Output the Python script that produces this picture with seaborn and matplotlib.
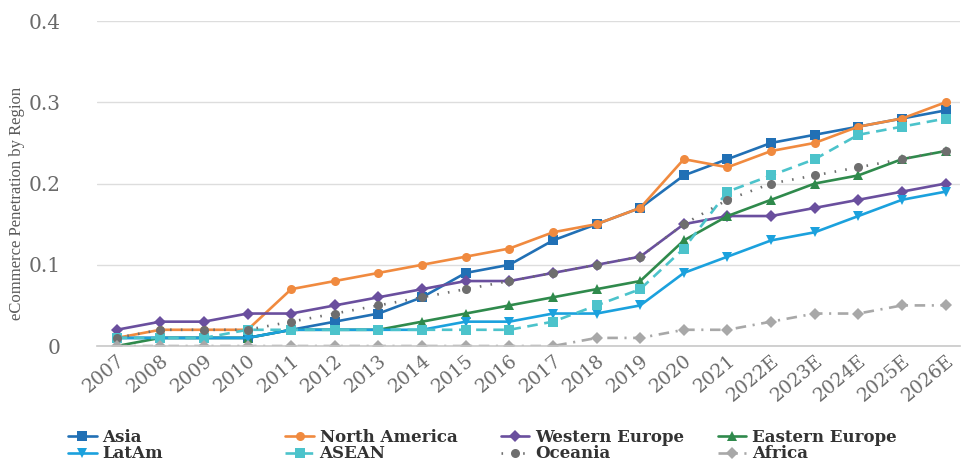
import pandas as pd
import numpy as np
import matplotlib
matplotlib.use('Agg')
import matplotlib.pyplot as plt
import seaborn as sns

# Datos
years = ['2007', '2008', '2009', '2010', '2011', '2012', '2013', '2014', '2015', '2016',
         '2017', '2018', '2019', '2020', '2021', '2022E', '2023E', '2024E', '2025E', '2026E']

asia = [0.01, 0.01, 0.01, 0.01, 0.02, 0.03, 0.04, 0.06, 0.09, 0.10,
        0.13, 0.15, 0.17, 0.21, 0.23, 0.25, 0.26, 0.27, 0.28, 0.29]
north_america = [0.01, 0.02, 0.02, 0.02, 0.07, 0.08, 0.09, 0.10, 0.11, 0.12,
                 0.14, 0.15, 0.17, 0.23, 0.22, 0.24, 0.25, 0.27, 0.28, 0.30]
western_europe = [0.02, 0.03, 0.03, 0.04, 0.04, 0.05, 0.06, 0.07, 0.08, 0.08,
                  0.09, 0.10, 0.11, 0.15, 0.16, 0.16, 0.17, 0.18, 0.19, 0.20]
eastern_europe = [0.00, 0.01, 0.01, 0.01, 0.02, 0.02, 0.02, 0.03, 0.04, 0.05,
                  0.06, 0.07, 0.08, 0.13, 0.16, 0.18, 0.20, 0.21, 0.23, 0.24]
latam = [0.01, 0.01, 0.01, 0.01, 0.02, 0.02, 0.02, 0.02, 0.03, 0.03,
         0.04, 0.04, 0.05, 0.09, 0.11, 0.13, 0.14, 0.16, 0.18, 0.19]
asean = [0.01, 0.01, 0.01, 0.02, 0.02, 0.02, 0.02, 0.02, 0.02, 0.02,
         0.03, 0.05, 0.07, 0.12, 0.19, 0.21, 0.23, 0.26, 0.27, 0.28]
oceania = [0.01, 0.02, 0.02, 0.02, 0.03, 0.04, 0.05, 0.06, 0.07, 0.08,
           0.09, 0.10, 0.11, 0.15, 0.18, 0.20, 0.21, 0.22, 0.23, 0.24]
africa = [0.00, 0.00, 0.00, 0.00, 0.00, 0.00, 0.00, 0.00, 0.00, 0.00,
          0.00, 0.01, 0.01, 0.02, 0.02, 0.03, 0.04, 0.04, 0.05, 0.05]

series = {
    'Asia': asia,
    'North America': north_america,
    'Western Europe': western_europe,
    'Eastern Europe': eastern_europe,
    'LatAm': latam,
    'ASEAN': asean,
    'Oceania': oceania,
    'Africa': africa,
}

colors = {
    'Asia': '#2170b5',
    'North America': '#f08a3f',
    'Western Europe': '#6a4f9e',
    'Eastern Europe': '#2f8a4c',
    'LatAm': '#1ba1dd',
    'ASEAN': '#4cc3cb',
    'Oceania': '#6e6e6e',
    'Africa': '#a8a8a8',
}
markers = {
    'Asia': 's', 'North America': 'o', 'Western Europe': 'D', 'Eastern Europe': '^',
    'LatAm': 'v', 'ASEAN': 's', 'Oceania': 'o', 'Africa': 'D',
}
dashes = {
    'Asia': '', 'North America': '', 'Western Europe': '', 'Eastern Europe': '',
    'LatAm': '', 'ASEAN': (4, 2.5), 'Oceania': (0.6, 3.5), 'Africa': (4, 2.5, 0.8, 2.5),
}

df = pd.DataFrame(
    [(i, region, v) for region, vals in series.items() for i, v in enumerate(vals)],
    columns=['idx', 'region', 'value'])

sns.set_style('white')

fig = plt.figure(figsize=(9.61, 4.62), dpi=100)
ax = fig.add_axes([0.101, 0.251, 0.898, 0.7035])

sns.lineplot(data=df, x='idx', y='value', hue='region', style='region',
             palette=colors, markers=markers, dashes=dashes,
             hue_order=list(series.keys()), style_order=list(series.keys()),
             linewidth=1.9, markersize=6.5, markeredgewidth=0,
             legend='brief', ax=ax)

ax.set_xlim(-0.45, 19.33)
ax.set_ylim(0, 0.4)
ax.set_yticks([0, 0.1, 0.2, 0.3, 0.4])
ax.set_yticklabels(['0', '0.1', '0.2', '0.3', '0.4'], family='DejaVu Serif',
                   fontsize=14.5, color='#6a6a6a')
ax.set_xticks(range(len(years)))
ax.set_xticklabels(years, rotation=40, ha='right', rotation_mode='anchor',
                   family='DejaVu Serif', fontsize=13.5, color='#6a6a6a')
ax.tick_params(axis='both', length=0, pad=4)
ax.tick_params(axis='y', pad=26)

ax.yaxis.grid(True, color='#dddddd', linewidth=1)
ax.set_axisbelow(True)
for s in ['top', 'right', 'left']:
    ax.spines[s].set_visible(False)
ax.spines['bottom'].set_color('#c8c8c8')
ax.spines['bottom'].set_linewidth(1.2)

ax.set_xlabel('')
ax.set_ylabel('eCommerce Penetration by Region', family='Liberation Serif',
              fontsize=12, color='#5a5a5a')
ax.yaxis.set_label_coords(-0.083, 0.44)

# Leyenda en cuatro columnas con posiciones fijas
handles, labels = ax.get_legend_handles_labels()
hmap = dict(zip(labels, handles))
ax.get_legend().remove()
cols = [('Asia', 'LatAm'), ('North America', 'ASEAN'),
        ('Western Europe', 'Oceania'), ('Eastern Europe', 'Africa')]
xpos = [0.071, 0.297, 0.521, 0.747]
for (a, b), x in zip(cols, xpos):
    fig.legend([hmap[a], hmap[b]], [a, b], loc='upper left',
               bbox_to_anchor=(x, 0.072), frameon=False, handlelength=1.7,
               handletextpad=0.35, labelspacing=-0.02, borderaxespad=0,
               borderpad=0, prop={'family': 'DejaVu Serif', 'weight': 'bold', 'size': 12},
               labelcolor='#333333')

fig.savefig('out.png', dpi=100)
